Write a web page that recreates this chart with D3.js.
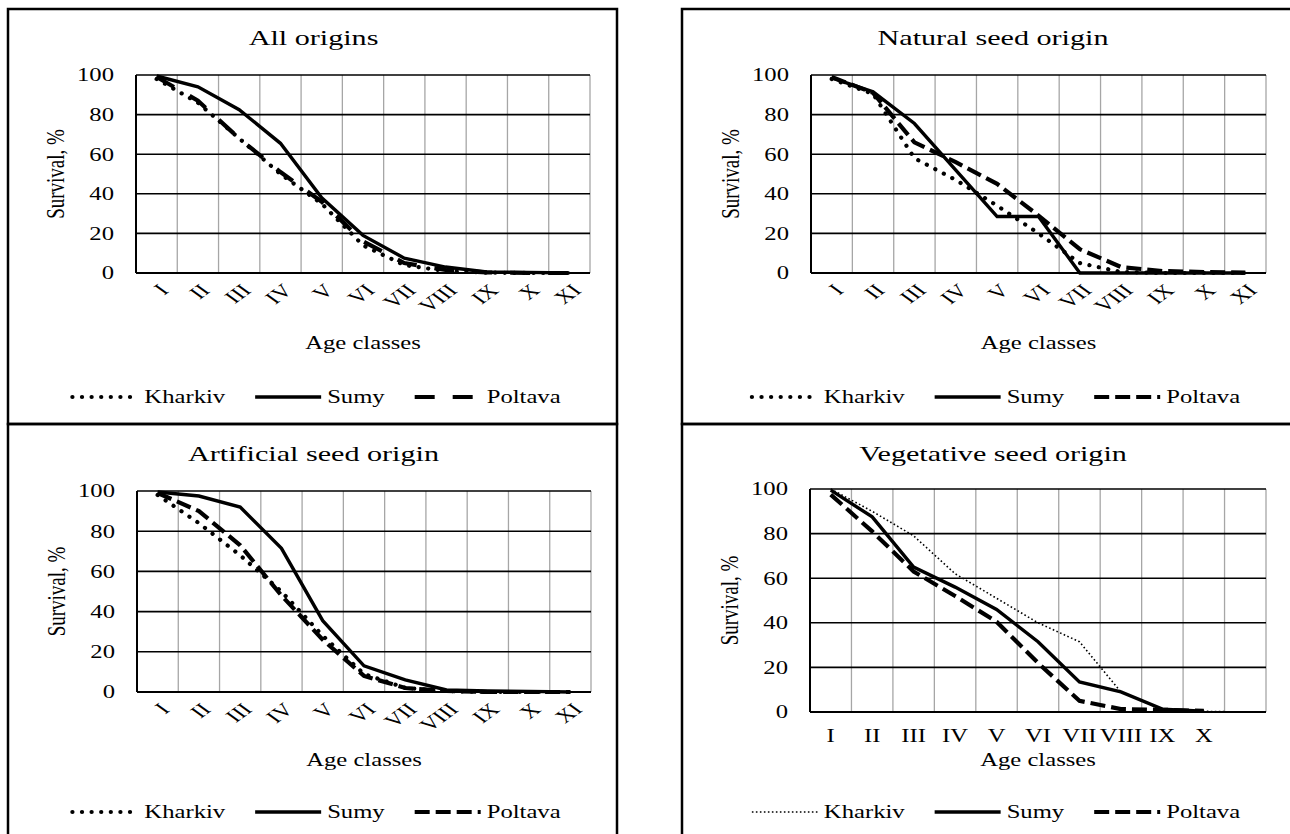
<!DOCTYPE html>
<html lang="en">
<head>
<meta charset="UTF-8" />
<title>Survival by age classes</title>
<script src="https://d3js.org/d3.v7.min.js"></script>
<style>
  body { margin: 0; background: #fff; }
  svg { display: block; font-family: "Liberation Serif", "Times New Roman", serif; }
  text { fill: #000; }
</style>
</head>
<body>
<svg id="chart" width="1290" height="834"></svg>
<script>
// age classes on the x axis
const ageClasses = ["I", "II", "III", "IV", "V", "VI", "VII", "VIII", "IX", "X", "XI"];
const vegTickLabels = ["I", "II", "III", "IV", "V", "VI", "VII", "VIII", "IX", "X", ""];
const yTicks = [0, 20, 40, 60, 80, 100];
const regions = ["Kharkiv", "Sumy", "Poltava"];

// survival, %
const allKharkiv = [98, 86, 68, 50, 35, 14, 4, 1, 0.2, 0, 0];
const allSumy    = [99.5, 94, 82.5, 65.5, 38, 19, 7.5, 3, 0.5, 0.3, 0];
const allPoltava = [99, 87, 68, 51, 36, 16, 5, 1.5, 0.3, 0, 0];

const natKharkiv = [98, 90.5, 58, 47, 34, 20, 5, 0.5, 0, 0, 0];
const natSumy    = [98.5, 91.5, 75.5, 52, 28.5, 28.5, 0, 0, 0, 0, 0];
const natPoltava = [99, 91, 66, 56, 45, 29, 12, 3, 1, 0.5, 0.2];

const artKharkiv = [98, 84, 68, 50, 28, 9, 2, 0.5, 0, 0, 0];
const artSumy    = [99.5, 97.5, 92, 71.5, 35.5, 13, 6, 1, 0.5, 0.3, 0];
const artPoltava = [99, 90, 73, 48, 26, 8, 2, 0.5, 0, 0, 0];

const vegKharkiv = [100, 90, 79, 62, 51, 40, 31.5, 9, 1, 0.3, 0];
const vegSumy    = [99.5, 87.5, 65, 56, 46, 31.5, 13.5, 9, 1.3, 0.4, null];
const vegPoltava = [97.5, 81, 63, 52, 40.5, 22, 5, 1.3, 1, 0.5, null];

const SX = 1.37; // the figure is stretched horizontally, text included

const panels = [
  { title: "All origins", series: [allKharkiv, allSumy, allPoltava],
    box: [8, 9, 609, 415], plot: [136, 75, 590, 273], rotate: true,
    titleY: 45, axisTitleY: 349, legendY: 397, poltavaDash: "20 18", thinDots: false },
  { title: "Natural seed origin", series: [natKharkiv, natSumy, natPoltava],
    box: [682, 9, 620, 415], plot: [811, 75, 1266, 273], rotate: true,
    titleY: 45, axisTitleY: 349, legendY: 397, poltavaDash: "15 6", thinDots: false },
  { title: "Artificial  seed origin", series: [artKharkiv, artSumy, artPoltava],
    box: [8, 424, 609, 420], plot: [137, 491, 591, 692], rotate: true,
    titleY: 461, axisTitleY: 766, legendY: 812, poltavaDash: "15 6", thinDots: false },
  { title: "Vegetative  seed origin", series: [vegKharkiv, vegSumy, vegPoltava],
    box: [682, 424, 620, 420], plot: [810, 489, 1266, 712], rotate: false,
    titleY: 461, axisTitleY: 766, legendY: 812, poltavaDash: "15 6", thinDots: true }
];

const svg = d3.select("#chart");

function place(sel, x, y, rot) {
  return sel.attr("transform", "translate(" + x + "," + y + ") scale(" + SX + ",1)" + (rot ? " rotate(" + rot + ")" : ""));
}

function styleLine(sel, i, p) {
  sel.attr("fill", "none").attr("stroke", "#000");
  if (i === 0) {
    if (p.thinDots) {
      sel.attr("stroke-width", 1.6).attr("stroke-dasharray", "1.6 2.4");
    } else {
      sel.attr("stroke-width", 4.2).attr("stroke-linecap", "round").attr("stroke-dasharray", "0.1 9.5");
    }
  } else if (i === 1) {
    sel.attr("stroke-width", 3.4).attr("stroke-linejoin", "miter");
  } else {
    sel.attr("stroke-width", 4.2).attr("stroke-dasharray", p.poltavaDash);
  }
  return sel;
}

panels.forEach(p => {
  const g = svg.append("g");
  const [bx, by, bw, bh] = p.box;
  const [x0, y0, x1, y1] = p.plot;

  g.append("rect")
    .attr("x", bx).attr("y", by).attr("width", bw).attr("height", bh)
    .attr("fill", "none").attr("stroke", "#000").attr("stroke-width", 2.5);

  const x = d3.scaleBand().domain(ageClasses).range([x0, x1]).paddingInner(0).paddingOuter(0);
  const y = d3.scaleLinear().domain([0, 100]).range([y1, y0]);
  const cx = d => x(d) + x.bandwidth() / 2;

  // vertical gridlines at category boundaries
  const bounds = ageClasses.map(d => x(d)).concat([x1]);
  g.selectAll(".vgrid").data(bounds.slice(1)).join("line")
    .attr("x1", d => d).attr("x2", d => d).attr("y1", y0).attr("y2", y1)
    .attr("stroke", "#a6a6a6").attr("stroke-width", 1.3);

  // horizontal gridlines
  g.selectAll(".hgrid").data(yTicks).join("line")
    .attr("x1", x0).attr("x2", x1).attr("y1", d => y(d)).attr("y2", d => y(d))
    .attr("stroke", "#000").attr("stroke-width", d => d === 0 ? 2.2 : 1.6);

  g.append("line").attr("x1", x0).attr("x2", x0).attr("y1", y0).attr("y2", y1)
    .attr("stroke", "#000").attr("stroke-width", 2);

  // y tick labels
  g.selectAll(".ytick").data(yTicks).join("text")
    .each(function (d) { place(d3.select(this), x0 - 22, y(d)); })
    .attr("dy", "0.35em").attr("text-anchor", "end")
    .style("font-size", "18px").text(d => d);

  // x tick labels
  if (p.rotate) {
    g.selectAll(".xtick").data(ageClasses).join("text")
      .each(function (d) { place(d3.select(this), cx(d) + 7, y1 + 14, -45); })
      .attr("dy", "0.35em").attr("text-anchor", "end")
      .style("font-size", "18px").text(d => d);
  } else {
    g.selectAll(".xtick").data(ageClasses).join("text")
      .each(function (d) { place(d3.select(this), cx(d), 742); })
      .attr("text-anchor", "middle")
      .style("font-size", "18px").text((d, i) => vegTickLabels[i]);
  }

  // titles
  place(g.append("text"), bx + bw / 2 + 1, p.titleY)
    .attr("text-anchor", "middle").style("font-size", "22px").text(p.title);
  place(g.append("text"), (x0 + x1) / 2, p.axisTitleY)
    .attr("text-anchor", "middle").style("font-size", "18px").text("Age classes");
  place(g.append("text"), x0 - 81, (y0 + y1) / 2, -90)
    .attr("dy", "0.35em").attr("text-anchor", "middle").style("font-size", "19px").text("Survival, %");

  // series
  const line = d3.line()
    .defined(d => d.v !== null)
    .x(d => cx(d.c))
    .y(d => y(d.v));
  [0, 2, 1].forEach(i => {
    const pts = ageClasses.map((c, k) => ({ c, v: p.series[i][k] }));
    styleLine(g.append("path").datum(pts).attr("d", line), i, p);
  });

  // legend
  const lg = g.append("g");
  const sample = 66, gapText = 6, gapItem = 30;
  const items = regions.map((name, i) => {
    const t = place(lg.append("text"), 0, p.legendY + 6).style("font-size", "18px").text(name);
    return { t, w: t.node().getComputedTextLength() * SX, i };
  });
  const total = d3.sum(items, d => sample + gapText + d.w) + gapItem * (items.length - 1);
  let cur = bx + bw / 2 + 4 - total / 2;
  items.forEach(it => {
    styleLine(lg.append("line")
      .attr("x1", cur).attr("x2", cur + sample)
      .attr("y1", p.legendY).attr("y2", p.legendY), it.i, p);
    cur += sample + gapText;
    place(it.t, cur, p.legendY + 6);
    cur += it.w + gapItem;
  });
});
</script>
</body>
</html>
